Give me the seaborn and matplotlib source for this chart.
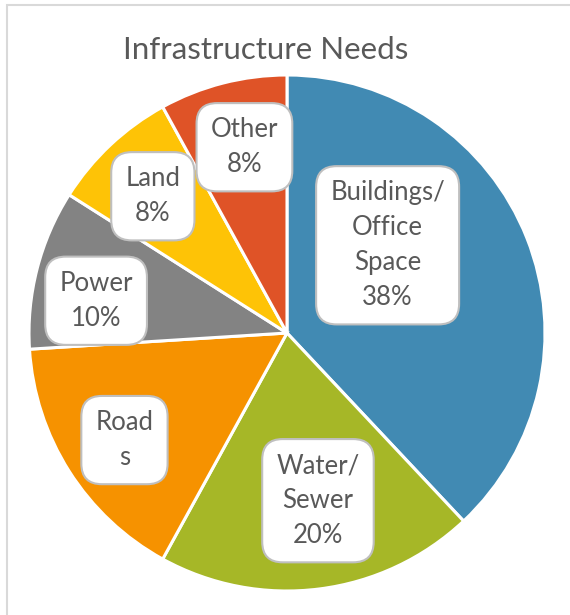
import matplotlib
matplotlib.use("Agg")
import matplotlib.pyplot as plt
import seaborn as sns
from matplotlib.patches import Rectangle

# data
categories = ["Buildings/\nOffice\nSpace", "Water/\nSewer", "Road\ns", "Power", "Land", "Other"]
shares = [38, 20, 16, 10, 8, 8]
show_pct = [True, True, False, True, True, True]
slice_colors = ["#418AB3", "#A6B727", "#F69200", "#838383", "#FEC306", "#DF5327"]

# label box centres (pie radius units)
label_xy = [(0.39, 0.34), (0.12, -0.65), (-0.63, -0.415), (-0.74, 0.125), (-0.52, 0.53), (-0.165, 0.72)]

sns.set_theme(style="white")
plt.rcParams["font.family"] = ["Lato", "DejaVu Sans"]
text_color = "#595959"

fig = plt.figure(figsize=(5.7, 6.15), dpi=100)
ax = fig.add_axes([0, 0, 1, 1])

palette = sns.color_palette(slice_colors)
ax.pie(shares, colors=palette, startangle=90, counterclock=False, radius=1,
       wedgeprops={"edgecolor": "white", "linewidth": 2.2})

for name, val, pct, (x, y) in zip(categories, shares, show_pct, label_xy):
    txt = f"{name}\n{val}%" if pct else name
    ax.text(x, y, txt, ha="center", va="center", fontsize=18.5, color=text_color,
            linespacing=1.5,
            bbox=dict(boxstyle="round,pad=0.55,rounding_size=0.8", facecolor="white",
                      edgecolor="#BFBFBF", linewidth=1.5))

# map pie centre to pixel (287, 333), radius 258 px
r = 258
ax.set_xlim(-287 / r, (570 - 287) / r)
ax.set_ylim(-(615 - 333) / r, 333 / r)
ax.set_aspect("auto")
ax.axis("off")

fig.text(266 / 570, 1 - 50 / 615, "Infrastructure Needs", ha="center", va="center",
         fontsize=22.5, color=text_color)

# chart area border (continues past the crop)
fig.patches.append(Rectangle((7 / 570, -0.1), 1.2, 1 - 5 / 615 + 0.1, transform=fig.transFigure,
                             fill=False, edgecolor="#D9D9D9", linewidth=1.5))

fig.savefig("out.png", dpi=100, facecolor="white")
